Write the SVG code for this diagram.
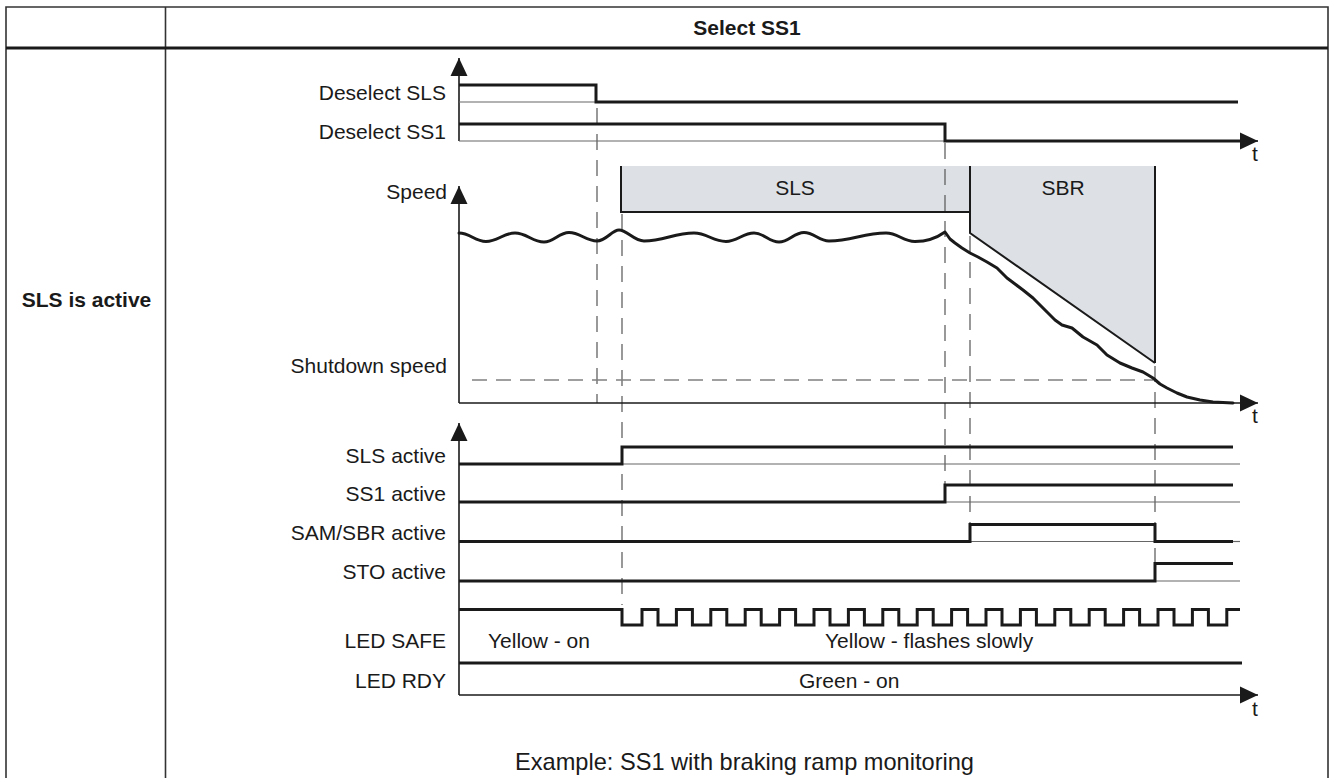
<svg xmlns="http://www.w3.org/2000/svg" width="1333" height="778" viewBox="0 0 1333 778">
<style>
text{font-family:"Liberation Sans",Arial,sans-serif;font-size:21px;fill:#1a1a1a}
.b{font-weight:bold}
.r{text-anchor:end}
.m{text-anchor:middle}
.frame{stroke:#333;stroke-width:1.6;fill:none}
.sig{stroke:#1a1a1a;stroke-width:3;fill:none;stroke-linejoin:miter}
.ax{stroke:#1a1a1a;stroke-width:1.6;fill:none}
.base{stroke:#666;stroke-width:1.2;fill:none}
.dash{stroke:#555;stroke-width:1.2;fill:none;stroke-dasharray:16 10}
.hdash{stroke:#808080;stroke-width:1.5;fill:none;stroke-dasharray:15 9}
.zone{fill:#dde1e6;stroke:none}
.edge{stroke:#1a1a1a;stroke-width:2;fill:none}
.curve{stroke:#1a1a1a;stroke-width:3;fill:none;stroke-linejoin:round;stroke-linecap:round}
</style>
<defs>
<marker id="arr" markerUnits="userSpaceOnUse" markerWidth="18" markerHeight="18" refX="18" refY="9" orient="auto" viewBox="0 0 18 18">
<path d="M0,0.5 L18,9 L0,17.5 z" fill="#1a1a1a"/>
</marker>
</defs>
<rect width="1333" height="778" fill="#fff"/>

<g id="table">
<path class="frame" d="M6,778 V7 H1328 V778 M165.5,7 V778"/>
<line x1="6" y1="48" x2="1328" y2="48" stroke="#1a1a1a" stroke-width="3"/>
<text class="b m" x="747" y="35">Select SS1</text>
<text class="b m" x="86.5" y="307">SLS is active</text>
</g>

<g id="zones">
<rect class="zone" x="621" y="166" width="349" height="46"/>
<polygon class="zone" points="970,166 1155,166 1155,363 970,233"/>
<path class="edge" d="M621,166 V212 H970"/>
<path class="edge" d="M970,166 V233 L1155,363 M1155,166 V363"/>
<text class="m" x="795" y="195">SLS</text>
<text class="m" x="1063" y="195">SBR</text>
</g>

<g id="connectors">
<line class="dash" x1="597" y1="108" x2="597" y2="403"/>
<line class="dash" x1="622" y1="214" x2="622" y2="605"/>
<line class="dash" x1="945" y1="143" x2="945" y2="485"/>
<line class="dash" x1="970" y1="236" x2="970" y2="524"/>
<line class="dash" x1="1155" y1="366" x2="1155" y2="563"/>
<line class="hdash" x1="472" y1="380" x2="1153" y2="380"/>
</g>

<g id="axes">
<line class="ax" x1="459" y1="141" x2="459" y2="58" marker-end="url(#arr)"/>
<line class="ax" x1="1230" y1="141" x2="1258" y2="141" marker-end="url(#arr)"/>
<line class="ax" x1="459" y1="403" x2="459" y2="186" marker-end="url(#arr)"/>
<line class="ax" x1="459" y1="403" x2="1258" y2="403" stroke-width="2.2" marker-end="url(#arr)"/>
<line class="ax" x1="459" y1="695" x2="459" y2="423" marker-end="url(#arr)"/>
<line class="ax" x1="459" y1="695" x2="1258" y2="695" marker-end="url(#arr)"/>
<text x="1252" y="161">t</text>
<text x="1252" y="423">t</text>
<text x="1252" y="716">t</text>
</g>

<g id="deselect-sls">
<text class="r" x="446" y="100">Deselect SLS</text>
<line class="base" x1="459" y1="102" x2="596" y2="102"/>
<path class="sig" d="M459,85 H596 V102 H1238"/>
</g>

<g id="deselect-ss1">
<text class="r" x="446" y="139">Deselect SS1</text>
<line class="base" x1="459" y1="141" x2="945" y2="141"/>
<path class="sig" d="M459,124 H945 V141 H1242"/>
</g>

<g id="speed">
<text class="r" x="447" y="199">Speed</text>
<text class="r" x="447" y="373">Shutdown speed</text>
<path class="curve" d="M459,233 C470,233 475,241.5 486,241.5 C497.6,241.5 503.4,233 515,233 C526.6,233 532.4,242 544,242 C554,242 559,232.5 569,232.5 C580,232.5 586,241 597,241 C606,241 612,230 619,230 C627,230 634,241 644,241 C664,241 674,233 694,233 C707,233 713,241.5 726,241.5 C737,241.5 743,233 754,233 C764,233 769,242 779,242 C789,242 794,232.5 804,232.5 C814,232.5 819,241 829,241 C852,241 863,233 886,233 C898,233 903,241.5 915,241.5 C927,241.5 938,237 945,232 L950,239 L955,243 L962,248 L970,253 L978,257 L987,262 L997,268 L1007,278 L1015,284 L1023,290 L1033,298 L1047,312 L1055,320 L1062,325 L1072,328 L1083,337 L1097,345 L1107,355 L1120,363 L1132,368 L1143,372 L1153,378 L1160,384 L1167,388 L1177,393 L1187,397 L1200,400 L1213,402 L1233,403"/>
</g>

<g id="sls-active">
<text class="r" x="446" y="463">SLS active</text>
<line class="base" x1="622" y1="464" x2="1240" y2="464"/>
<path class="sig" d="M459,464 H622 V447 H1233"/>
</g>

<g id="ss1-active">
<text class="r" x="446" y="501">SS1 active</text>
<line class="base" x1="945" y1="502" x2="1240" y2="502"/>
<path class="sig" d="M459,502 H945 V485 H1233"/>
</g>

<g id="sam-sbr-active">
<text class="r" x="446" y="540">SAM/SBR active</text>
<line class="base" x1="970" y1="541.5" x2="1155" y2="541.5"/>
<line class="base" x1="1233" y1="541.5" x2="1240" y2="541.5"/>
<path class="sig" d="M459,541.5 H970 V524.5 H1155 V541.5 H1233"/>
</g>

<g id="sto-active">
<text class="r" x="446" y="579">STO active</text>
<line class="base" x1="1155" y1="581" x2="1240" y2="581"/>
<path class="sig" d="M459,581 H1155 V563.5 H1233"/>
</g>

<g id="led-safe">
<text class="r" x="446" y="648">LED SAFE</text>
<path class="sig" d="M459,609.5 H622 V625 H642 V609.5 H658 V625 H676.4 V609.5 H692.4 V625 H710.8 V609.5 H726.8 V625 H745.2 V609.5 H761.2 V625 H779.6 V609.5 H795.6 V625 H814 V609.5 H830 V625 H848.4 V609.5 H864.4 V625 H882.8 V609.5 H898.8 V625 H917.2 V609.5 H933.2 V625 H951.6 V609.5 H967.6 V625 H986 V609.5 H1002 V625 H1020.4 V609.5 H1036.4 V625 H1054.8 V609.5 H1070.8 V625 H1089.2 V609.5 H1105.2 V625 H1123.6 V609.5 H1139.6 V625 H1158 V609.5 H1174 V625 H1192.4 V609.5 H1208.4 V625 H1226.8 V609.5 H1240"/>
<text x="488" y="648">Yellow - on</text>
<text x="825" y="648">Yellow - flashes slowly</text>
</g>

<g id="led-rdy">
<text class="r" x="446" y="688">LED RDY</text>
<line class="sig" x1="459" y1="663" x2="1242" y2="663"/>
<text x="799" y="688">Green - on</text>
</g>

<text x="515" y="770" style="font-size:23.6px">Example: SS1 with braking ramp monitoring</text>
</svg>
